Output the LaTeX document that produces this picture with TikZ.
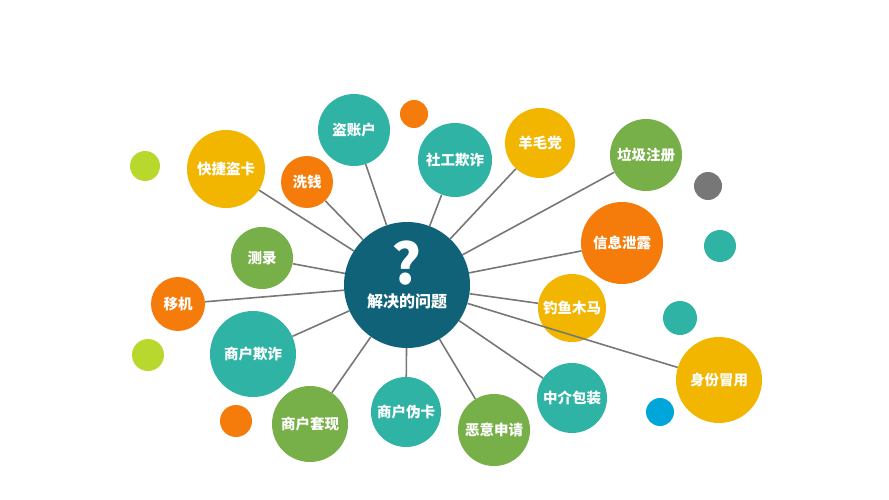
\documentclass[tikz,border=0pt]{standalone}
\usepackage{fontspec}
\setmainfont{Noto Sans CJK SC}
\setsansfont{Noto Sans CJK SC}
\definecolor{hub}{HTML}{0F6278}
\definecolor{tealc}{HTML}{2FB3A5}
\definecolor{yell}{HTML}{F2B600}
\definecolor{oran}{HTML}{F57C0A}
\definecolor{gree}{HTML}{77AF48}
\definecolor{lime}{HTML}{B8D82E}
\definecolor{grayc}{HTML}{777777}
\definecolor{bluec}{HTML}{00A6D9}
\tikzset{
  bub/.style={circle, inner sep=0pt, text=white, font=\fontsize{14.5}{16}\selectfont\bfseries},
  dot/.style={circle, inner sep=0pt},
  spoke/.style={draw=grayc, line width=1.6pt}
}
\begin{document}
\begin{tikzpicture}[x=1pt,y=-1pt]
\useasboundingbox (0,0) rectangle (889,500);

% hub
\node[bub, fill=hub, minimum size=126pt] (hub) at (407,285) {};

% bubbles
\node[bub, fill=tealc, minimum size=72pt] (zhanghu) at (354,130) {盗账户};
\node[bub, fill=yell,  minimum size=78pt] (daoka) at (226,169) {快捷盗卡};
\node[bub, fill=oran,  minimum size=52pt] (xiqian) at (307,182) {洗钱};
\node[bub, fill=tealc, minimum size=74pt] (shegong) at (455,160) {社工欺诈};
\node[bub, fill=yell,  minimum size=70pt] (yangmao) at (540,143) {羊毛党};
\node[bub, fill=gree,  minimum size=72pt] (laji) at (646,155) {垃圾注册};
\node[bub, fill=oran,  minimum size=82pt] (xielu) at (622,243) {信息泄露};
\node[bub, fill=gree,  minimum size=62pt] (celu) at (262,258) {测录};
\node[bub, fill=yell,  minimum size=68pt] (diaoyu) at (572,308) {钓鱼木马};
\node[bub, fill=oran,  minimum size=54pt] (yiji) at (178,304) {移机};
\node[bub, fill=tealc, minimum size=86pt] (shqizha) at (253,354) {商户欺诈};
\node[bub, fill=yell,  minimum size=86pt] (maoyong) at (719,380) {身份冒用};
\node[bub, fill=tealc, minimum size=70pt] (zhongjie) at (572,398) {中介包装};
\node[bub, fill=gree,  minimum size=72pt] (eyi) at (494,430) {恶意申请};
\node[bub, fill=tealc, minimum size=70pt] (weika) at (406,412) {商户伪卡};
\node[bub, fill=gree,  minimum size=76pt] (taoxian) at (310,424) {商户套现};

% loose dots
\node[dot, fill=oran,  minimum size=28pt] (d1) at (414,114) {};
\node[dot, fill=lime,  minimum size=30pt] (d2) at (145,166) {};
\node[dot, fill=grayc, minimum size=28pt] (d3) at (708,186) {};
\node[dot, fill=tealc, minimum size=32pt] (d4) at (720,246) {};
\node[dot, fill=tealc, minimum size=34pt] (d5) at (680,318) {};
\node[dot, fill=lime,  minimum size=32pt] (d6) at (148,355) {};
\node[dot, fill=bluec, minimum size=28pt] (d7) at (660,412) {};
\node[dot, fill=oran,  minimum size=32pt] (d8) at (236,421) {};

% spokes
\foreach \b in {zhanghu,daoka,xiqian,shegong,yangmao,laji,xielu,celu,diaoyu,yiji,shqizha,maoyong,zhongjie,eyi,weika,taoxian}
  \draw[spoke] (hub) -- (\b);

% hub text on top
\node[text=white, font=\fontsize{56}{56}\selectfont\bfseries] (qmark) at (407,263) {?};
\node[bub, font=\fontsize{16}{18}\selectfont\bfseries] (title) at (407,301) {解决的问题};
\end{tikzpicture}
\end{document}
